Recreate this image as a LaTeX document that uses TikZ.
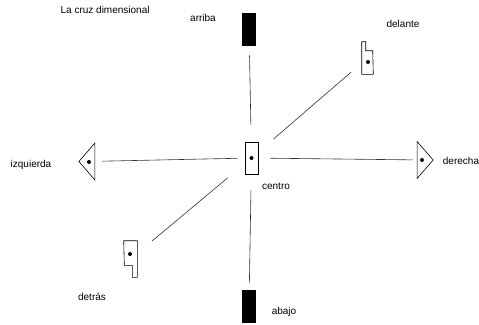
\documentclass[tikz,border=0pt]{standalone}
\usepackage{fontspec}
\setmainfont{Liberation Sans}
\usetikzlibrary{shapes.geometric}
\begin{document}
\begin{tikzpicture}[x=1pt, y=-1pt, line width=.6pt, font=\fontsize{10}{12}\selectfont,
  block node/.style={rectangle,draw,minimum width=13pt,minimum height=32pt,inner sep=0pt},
  end node/.style={rectangle,draw,fill=black,minimum width=13pt,minimum height=32pt,inner sep=0pt},
  side node/.style={isosceles triangle,isosceles triangle stretches,draw,minimum height=16pt,minimum width=37pt,inner sep=0pt},
  hole/.style={circle,fill=black,minimum size=4pt,inner sep=0pt},
  axis/.style={draw=black!80,line width=.6pt}]
\useasboundingbox (0,0) rectangle (479,324);
\node [anchor=west] (title) at (57,10) {La cruz dimensional};
% the six pieces
\node [block node] (centro) at (251.5,158) {};
\node [hole] (dotc) at (centro.center) {};
\node [end node] (arriba) at (249,29) {};
\node [end node] (abajo) at (249,306) {};
\node [side node, shape border rotate=180] (izq) at (88,161.5) {};
\node [hole] (dotl) at (89,162) {};
\node [side node] (der) at (424,160) {};
\node [hole] (dotr) at (422,160) {};
\node [inner sep=0pt, minimum width=11pt, minimum height=32pt] (delante) at (367.5,58) {};
\draw (delante.north west) -- ++(4,0) |- ++(7,9) -- (delante.south east) -- (delante.south west) -- cycle;
\node [hole] (dotf) at (368,62) {};
\node [inner sep=0pt, minimum width=13pt, minimum height=36pt] (detras) at (130.5,259) {};
\draw (detras.north west) -- (detras.north east) -- (detras.south east) -- ++(-5,0) |- ++(-8,-12) -- cycle;
\node [hole] (dotb) at (130,254) {};
% labels
\begin{scope}[every node/.style={inner sep=0pt}]
\node (l1) at (203,18) {arriba};
\node (l2) at (403,24) {delante};
\node (l3) at (31,165) {izquierda};
\node (l4) at (461,161) {derecha};
\node (l5) at (276,186) {centro};
\node (l6) at (92,297) {detrás};
\node (l7) at (284,312) {abajo};
\end{scope}
% the axes
\path [axis]
  (centro) edge [shorten <=17pt, shorten >=10pt] (arriba)
  (centro) edge [shorten <=16pt, shorten >=7pt] (abajo)
  (centro) edge [shorten <=12pt, shorten >=4pt] (der)
  (centro) edge [shorten <=7pt, shorten >=7pt] (izq)
  (centro) edge [shorten <=20pt, shorten >=14pt] (delante)
  (centro) edge [shorten <=22pt, shorten >=19pt] (detras)
  ;
\end{tikzpicture}
\end{document}
